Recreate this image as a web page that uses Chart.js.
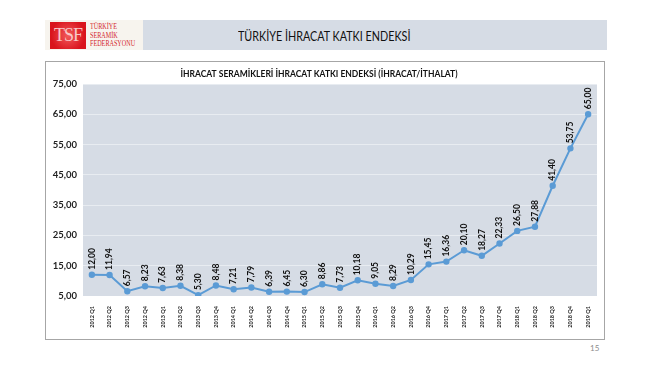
<!DOCTYPE html>
<html>
<head>
<meta charset="utf-8">
<script src="https://cdn.jsdelivr.net/npm/chart.js@4.4.1/dist/chart.umd.min.js"></script>
<style>
  body { margin: 0; background: #fff; font-family: Lato, "Open Sans", sans-serif; }
  .page { position: relative; width: 650px; height: 366px; overflow: hidden; }
  .logoBox { position: absolute; left: 45px; top: 20px; width: 98px; height: 30px; background: #f7f4ee; }
  .logoRed { position: absolute; left: 50px; top: 22px; width: 36px; height: 27px;
    background: radial-gradient(circle at 50% 50%, #f25a5a 0%, #d9141c 75%);
    color: #f8c8c8; font-family: "Liberation Serif", serif; font-size: 18px; line-height: 27px; text-align: center; letter-spacing: -1px; }
  .logoText { position: absolute; left: 90px; top: 23px; font-family: "Liberation Serif", serif; font-size: 7.5px; line-height: 8.6px; color: #d4262b;
    transform: scaleX(0.82); transform-origin: left top; white-space: nowrap; }
  .band { position: absolute; left: 143px; top: 20px; width: 464px; height: 30px; background: #d6dce5; }
  .band span { position: absolute; left: 95px; top: 7px; font-size: 14px; color: #111; transform: scaleX(0.77); transform-origin: left center; white-space: nowrap; }
  .frame { position: absolute; left: 45px; top: 61px; width: 558px; height: 277px; border: 1px solid #a6a6a6; box-sizing: content-box; }
  .pageNo { position: absolute; left: 590px; top: 343px; font-size: 8px; color: #8c8c8c; }
</style>
</head>
<body>
<div class="page">
  <div class="logoBox"></div>
  <div class="logoRed">TSF</div>
  <div class="logoText">TÜRKİYE<br>SERAMİK<br>FEDERASYONU</div>
  <div class="band"><span>TÜRKİYE İHRACAT KATKI ENDEKSİ</span></div>
  <div class="frame"><canvas id="endeksChart" width="558" height="277"></canvas></div>
  <div class="pageNo">15</div>
</div>
<script>
// veriler
const ceyrekler = ['2012 Q1','2012 Q2','2012 Q3','2012 Q4','2013 Q1','2013 Q2','2013 Q3','2013 Q4',
  '2014 Q1','2014 Q2','2014 Q3','2014 Q4','2015 Q1','2015 Q2','2015 Q3','2015 Q4',
  '2016 Q1','2016 Q2','2016 Q3','2016 Q4','2017 Q1','2017 Q2','2017 Q3','2017 Q4',
  '2018 Q1','2018 Q2','2018 Q3','2018 Q4','2019 Q1'];
const endeks = [12.00, 11.94, 6.57, 8.23, 7.63, 8.38, 5.30, 8.48, 7.21, 7.79, 6.39, 6.45, 6.30, 8.86,
  7.73, 10.18, 9.05, 8.29, 10.29, 15.45, 16.36, 20.10, 18.27, 22.33, 26.50, 27.88, 41.40, 53.75, 65.00];
const yTicks = [5, 15, 25, 35, 45, 55, 65, 75];

const chartTitle = 'İHRACAT SERAMİKLERİ İHRACAT KATKI ENDEKSİ (İHRACAT/İTHALAT)';

function virgul(v){
    return v.toFixed(2).replace('.', ',');
}

// arka plan + baslik + etiketler
const ekstra = {
    id: 'ekstra',
    beforeDraw(chart){
        const {ctx, chartArea} = chart;
        ctx.save();
        ctx.fillStyle = '#d6dce5';
        ctx.fillRect(chartArea.left, chartArea.top, chartArea.right - chartArea.left, chartArea.bottom - chartArea.top);
        ctx.restore();
    },
    afterDraw(chart){
        const {ctx} = chart;
        ctx.save();
        ctx.fillStyle = '#111';
        ctx.font = 'bold 8.5px Lato, sans-serif';
        ctx.textAlign = 'center';
        ctx.textBaseline = 'middle';
        ctx.fillText(chartTitle, 273, 12);

        const meta = chart.getDatasetMeta(0);
        ctx.font = 'bold 8.5px Lato, sans-serif';
        ctx.textAlign = 'left';
        meta.data.forEach(function(pt, i){
            ctx.save();
            ctx.translate(pt.x, pt.y - 5);
            ctx.rotate(-Math.PI / 2);
            ctx.fillText(virgul(endeks[i]), 0, 0);
            ctx.restore();
        });
        ctx.restore();
    }
};

const ctx = document.getElementById('endeksChart');

new Chart(ctx, {
    type: 'line',
    data: {
        labels: ceyrekler,
        datasets: [{
            data: endeks,
            borderColor: '#5b9bd5',
            backgroundColor: '#5b9bd5',
            borderWidth: 2,
            pointRadius: 2.2,
            tension: 0
        }]
    },
    options: {
        responsive: false,
        animation: false,
        layout: { padding: { top: 22, right: 7, left: 0, bottom: 0 } },
        plugins: {
            legend: { display: false },
            tooltip: { enabled: false }
        },
        scales: {
            x: {
                offset: true,
                grid: { display: false },
                border: { display: false },
                ticks: {
                    autoSkip: false,
                    minRotation: 90,
                    maxRotation: 90,
                    padding: 2,
                    color: '#222',
                    font: { size: 5.5, family: 'Lato, sans-serif', weight: 'bold' }
                },
                afterFit(scale){ scale.height = 43; }
            },
            y: {
                min: 5,
                max: 75,
                afterBuildTicks(scale){
                    scale.ticks = yTicks.map(v => ({ value: v }));
                },
                grid: { color: 'rgba(255,255,255,0.45)', drawTicks: false },
                border: { display: false },
                ticks: {
                    padding: 6,
                    color: '#222',
                    font: { size: 9.5, family: 'Lato, sans-serif', weight: 'bold' },
                    callback: v => virgul(v)
                },
                afterFit(scale){ scale.width = 37; }
            }
        }
    },
    plugins: [ekstra]
});
</script>
</body>
</html>
